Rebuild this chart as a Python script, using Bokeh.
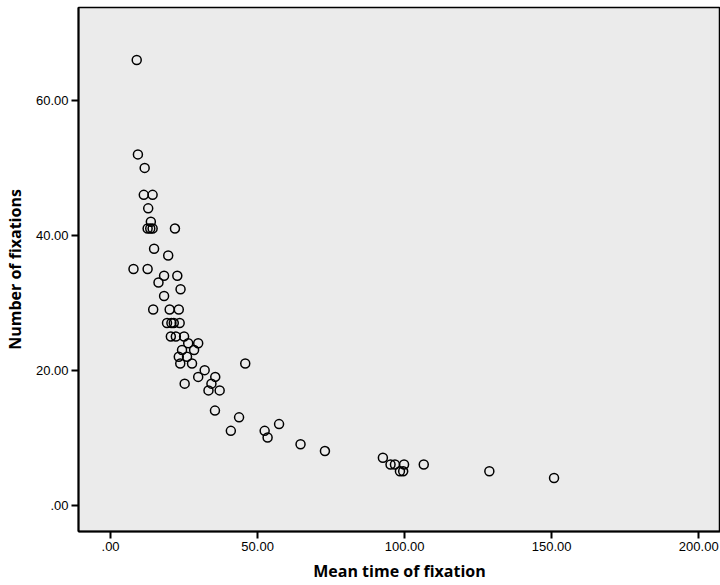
from bokeh.plotting import figure
from bokeh.models import Range1d, FixedTicker, ColumnDataSource
from bokeh.embed import file_html
from bokeh.resources import INLINE

# Data
mean_time = [8.9, 9.3, 11.6, 11.3, 14.3, 12.8, 13.7,
             12.6, 13.5, 14.3, 21.9, 14.8, 19.6, 7.8, 12.6,
             18.2, 22.7, 16.3, 23.8, 18.2,
             14.5, 20.1, 23.2, 19.2, 20.7, 21.5, 23.5,
             20.5, 22.2, 25.0, 26.4, 29.8, 24.3, 28.4,
             23.2, 26.0, 23.7, 27.7, 45.8, 32.0, 29.8, 35.6,
             25.2, 34.3, 33.3, 37.1, 35.5, 43.7, 40.9, 52.4,
             57.3, 53.4, 64.6, 72.9, 92.6, 95.2, 96.7, 99.8,
             106.5, 98.4, 99.5, 128.8, 150.8]
num_fixations = [66, 52, 50, 46, 46, 44, 42,
                 41, 41, 41, 41, 38, 37, 35, 35,
                 34, 34, 33, 32, 31,
                 29, 29, 29, 27, 27, 27, 27,
                 25, 25, 25, 24, 24, 23, 23,
                 22, 22, 21, 21, 21, 20, 19, 19,
                 18, 18, 17, 17, 14, 13, 11, 11,
                 12, 10, 9, 8, 7, 6, 6, 6,
                 6, 5, 5, 5, 4]

x_ticks = [0, 50, 100, 150, 200]
x_tick_labels = [".00", "50.00", "100.00", "150.00", "200.00"]
y_ticks = [0, 20, 40, 60]
y_tick_labels = [".00", "20.00", "40.00", "60.00"]
x_title = "Mean time of fixation"
y_title = "Number of fixations"

TICK_FONT = "Liberation Sans"
TITLE_FONT = "Open Sans"

src = ColumnDataSource(dict(x=mean_time, y=num_fixations))

p = figure(width=720, height=585, output_backend="svg", toolbar_location=None,
           x_range=Range1d(-10.9, 207.4), y_range=Range1d(-3.93, 73.79),
           min_border_left=77, min_border_right=0, min_border_top=7,
           min_border_bottom=54)

p.background_fill_color = "#ebebeb"
p.border_fill_color = "white"
p.outline_line_color = "black"
p.outline_line_width = 1.5
p.xgrid.visible = False
p.ygrid.visible = False

p.scatter("x", "y", source=src, size=9, marker="circle",
          fill_color=None, line_color="black", line_width=1.5)

p.xaxis.ticker = FixedTicker(ticks=x_ticks)
p.xaxis.major_label_overrides = {t: l for t, l in zip(x_ticks, x_tick_labels)}
p.yaxis.ticker = FixedTicker(ticks=y_ticks)
p.yaxis.major_label_overrides = {t: l for t, l in zip(y_ticks, y_tick_labels)}

for ax in (p.xaxis, p.yaxis):
    ax.axis_line_color = "black"
    ax.axis_line_width = 2
    ax.major_tick_line_color = "black"
    ax.major_tick_line_width = 2
    ax.major_tick_in = 0
    ax.major_tick_out = 7
    ax.minor_tick_line_color = None
    ax.major_label_text_font = TICK_FONT
    ax.major_label_text_font_size = "13px"
    ax.major_label_text_color = "black"
    ax.major_label_standoff = 3
    ax.axis_label_text_font = TITLE_FONT
    ax.axis_label_text_font_style = "bold"
    ax.axis_label_text_font_size = "16px"
    ax.axis_label_text_color = "black"

p.xaxis.axis_label = x_title
p.yaxis.axis_label = y_title
p.xaxis.axis_label_standoff = 6
p.yaxis.axis_label_standoff = 7

open("out.html", "w").write(file_html(p, INLINE))
